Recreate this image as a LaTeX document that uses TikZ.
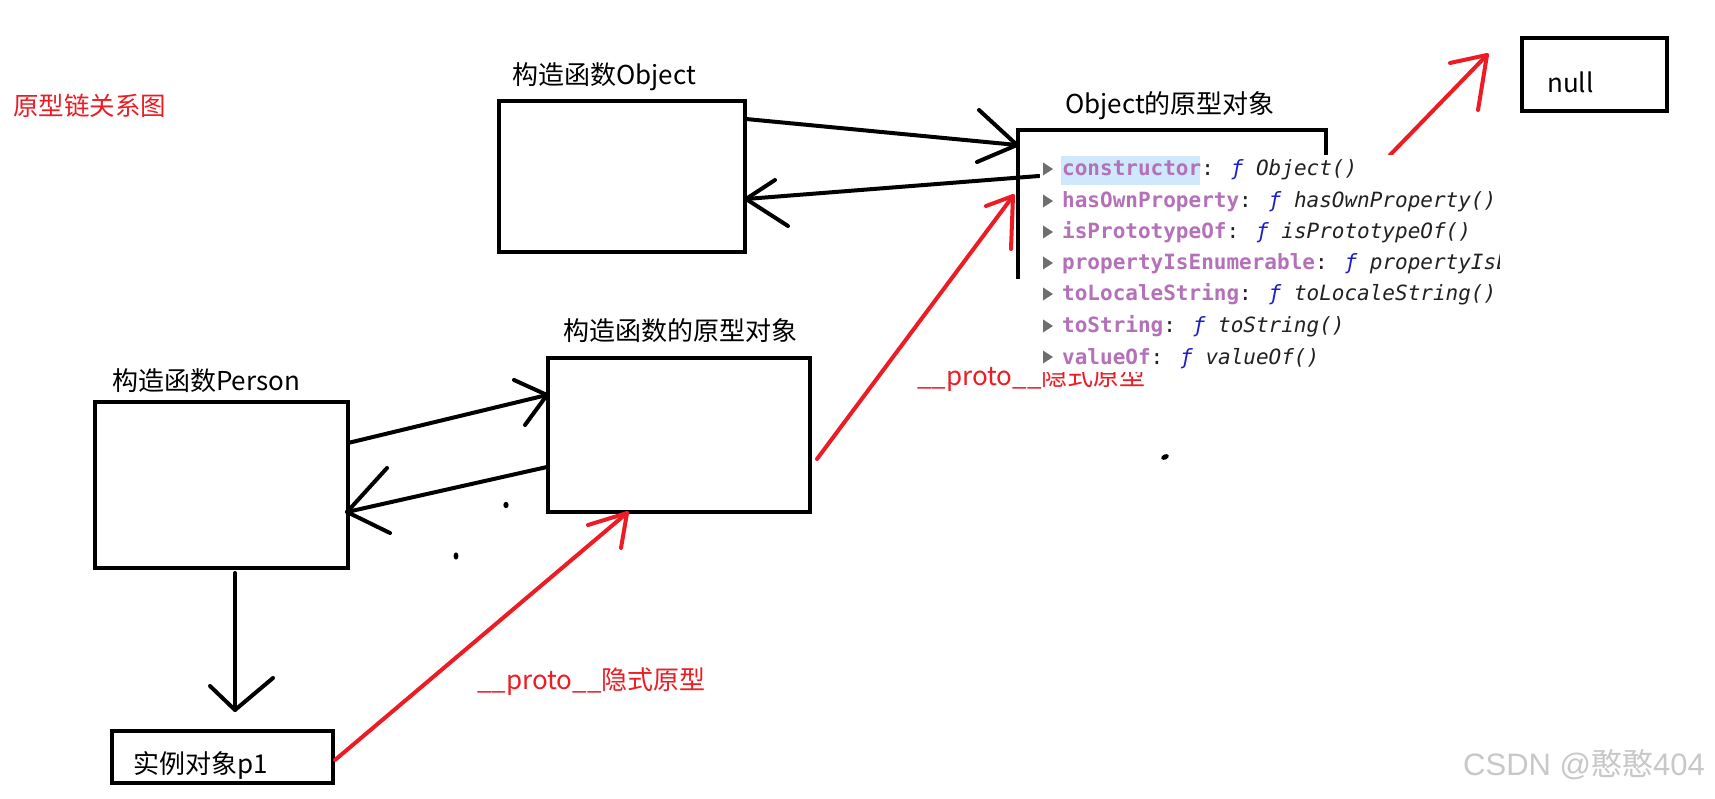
\documentclass[tikz,border=0pt]{standalone}
\usepackage{fontspec}
\setmainfont{Noto Sans CJK SC}
\newfontfamily\monofnt{DejaVu Sans Mono}
\newfontfamily\wmfnt{Liberation Sans}
\definecolor{pred}{RGB}{237,28,36}
\definecolor{keyc}{RGB}{180,112,184}
\definecolor{fnc}{RGB}{30,30,200}
\definecolor{valc}{RGB}{33,33,33}
\definecolor{hlc}{RGB}{207,232,252}
\definecolor{tric}{RGB}{110,110,110}
\definecolor{wmc}{RGB}{200,200,200}
\newcommand\prow[3]{%
  \fill[tric] (1043,#1-13.5) -- (1053,#1-7) -- (1043,#1-0.5) -- cycle;
  \node[anchor=base west, inner sep=0pt, font=\monofnt\fontsize{21}{21}\selectfont] at (1062,#1)
    {\textcolor{keyc}{\bfseries #2}\textcolor{valc}{: }\textcolor{fnc}{\itshape ƒ} \textcolor{valc}{\itshape #3}};
}
\begin{document}
\begin{tikzpicture}[x=1pt,y=-1pt,
  box/.style={draw=black, line width=4.5pt, inner sep=0pt},
  boxline/.style={draw=black, line width=4.5pt, line cap=rect, line join=miter},
  arr/.style={draw=black, line width=4pt, line cap=round, line join=round},
  rarr/.style={draw=pred, line width=4pt, line cap=round, line join=round},
  lbl/.style={anchor=west, inner sep=0pt, font=\fontsize{26}{26}\selectfont},
  rlbl/.style={anchor=west, inner sep=0pt, text=pred, font=\fontsize{26}{26}\selectfont}]
\useasboundingbox (0,0) rectangle (1715,799);
\fill[white] (0,0) rectangle (1715,799);

% title
\node[anchor=west, inner sep=0pt, text=pred, font=\fontsize{25.5}{25.5}\selectfont] (title) at (13,106) {原型链关系图};

% boxes
\node[box, minimum width=246pt, minimum height=151pt] (objbox) at (622,176.5) {};
\node[box, minimum width=262pt, minimum height=154pt] (protobox) at (679,435) {};
\node[box, minimum width=253pt, minimum height=166pt] (personbox) at (221.5,485) {};
\node[box, minimum width=221pt, minimum height=52pt] (p1box) at (222.5,757) {};
\node[box, minimum width=145pt, minimum height=73pt] (nullbox) at (1594.5,74.5) {};

% labels
\node[lbl] (lobj) at (512,77) {构造函数Object};
\node[lbl] (lop) at (1065,106) {Object的原型对象};
\node[lbl] (lproto) at (563,331) {构造函数的原型对象};
\node[lbl] (lperson) at (112,381) {构造函数Person};
\node[lbl] (lp1) at (133,765) {实例对象p1};
\node[lbl] (lnull) at (1547,82) {null};
\node[rlbl] (rl1) at (477,682) {\_\_proto\_\_隐式原型};
\node[rlbl] (rl2) at (917,378) {\_\_proto\_\_隐式原型};

% Object prototype box (open)
\coordinate (opTL) at (1018,130);
\coordinate (opTR) at (1326,130);
\draw[boxline] (1018,277) -- (opTL) -- (opTR) -- (1326,155);

% Object <-> Object prototype
\coordinate (a1s) at (746,119);
\coordinate (a1t) at (1017,145);
\draw[arr] (a1s) -- (a1t);
\draw[arr] (979,110) -- (a1t) -- (977,162);
\coordinate (a2s) at (1039,176);
\coordinate (a2t) at (746,199);
\draw[arr] (a2s) -- (a2t);
\draw[arr] (775,180) -- (a2t) -- (788,226);

% Person <-> prototype
\coordinate (a3s) at (348,443);
\coordinate (a3t) at (547,395);
\draw[arr] (a3s) -- (a3t);
\draw[arr] (514,380) -- (a3t) -- (525,425);
\coordinate (a4s) at (547,467);
\coordinate (a4t) at (347,512);
\draw[arr] (a4s) -- (a4t);
\draw[arr] (387,468) -- (a4t) -- (390,533);

% Person -> p1
\coordinate (a5s) at (235,573);
\coordinate (a5t) at (235,710);
\draw[arr] (a5s) -- (a5t);
\draw[arr] (210,686) -- (a5t) -- (273,678);

% red proto arrows
\coordinate (r3s) at (335,760);
\coordinate (r3t) at (627,513);
\draw[rarr] (r3s) -- (r3t);
\draw[rarr] (588,525) -- (r3t) -- (621,548);
\coordinate (r1s) at (817,459);
\coordinate (r1t) at (1013,196);
\draw[rarr] (r1s) -- (r1t);
\draw[rarr] (986,206) -- (r1t) -- (1011,249);
\coordinate (r2s) at (1390,155);
\coordinate (r2t) at (1487,55);
\draw[rarr] (r2s) -- (r2t);
\draw[rarr] (1450,63) -- (r2t) -- (1478,110);

% stray dots
\fill[black] (506,505) ellipse (2.6pt and 3.2pt);
\fill[black] (456,556) ellipse (2.4pt and 3.6pt);
\fill[black, rotate around={25:(1165,457)}] (1165,457) ellipse (4pt and 2.6pt);

% pasted devtools list
\fill[white] (1040,155) rectangle (1500,372);
\fill[hlc] (1061,156) rectangle (1200,185);
\begin{scope}
\clip (1035,150) rectangle (1499,380);
\prow{176}{constructor}{Object()}
\prow{208}{hasOwnProperty}{hasOwnProperty()}
\prow{239}{isPrototypeOf}{isPrototypeOf()}
\prow{270}{propertyIsEnumerable}{propertyIsEnumerable()}
\prow{301}{toLocaleString}{toLocaleString()}
\prow{333}{toString}{toString()}
\prow{364}{valueOf}{valueOf()}
\end{scope}

% watermark
\node[anchor=west, inner sep=0pt, text=wmc, font=\fontsize{31}{31}\selectfont] (wm) at (1463,765) {\wmfnt CSDN @\rmfamily 憨憨\wmfnt 404};
\end{tikzpicture}
\end{document}
